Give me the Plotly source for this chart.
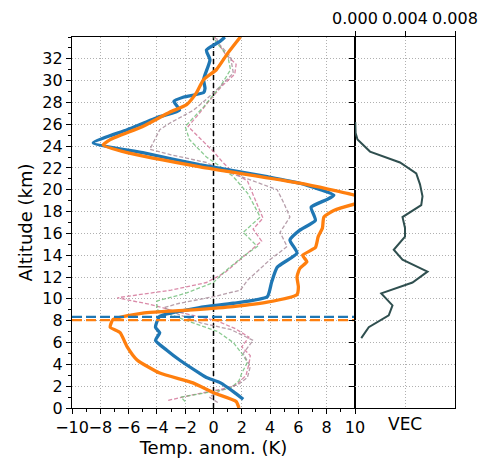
import plotly.graph_objects as go

# ---- Data ----
blue_T = [2.1, 1.4, 0.5, -0.5, -1.0, -2.4, -3.3, -4.1, -3.8, -4.1, -3.8, -1.0, 1.4, 3.8, 4.1, 4.5, 5.9, 5.4, 6.1, 7.2, 6.9, 8.0, 8.5, 6.1, 3.8, -1.0, -5.0, -8.5, -6.1, -3.8, -2.4, -2.8, -2.1, -0.7, -0.6, -0.7, -0.25, -0.5, 0.46, 0.8]
blue_z = [0.8, 1.5, 2.3, 2.8, 3.2, 4.4, 5.3, 6.2, 6.9, 7.4, 8.4, 9.2, 9.6, 10.2, 11.5, 12.9, 14.2, 15.4, 16.3, 17.2, 18.4, 19.1, 19.5, 20.6, 21.2, 22.3, 23.4, 24.3, 25.5, 26.7, 27.3, 28.1, 28.5, 28.9, 29.3, 30.1, 31.9, 32.8, 33.6, 34.0]

orange_T = [1.8, 1.6, 0.0, -1.45, -3.8, -5.4, -6.1, -6.6, -7.3, -7.1, -5.0, -1.45, 1.4, 3.8, 5.9, 6.0, 5.9, 6.1, 6.6, 6.3, 7.2, 7.4, 7.7, 7.8, 8.5, 10.0, 11.0, 10.0, 6.1, -0.95, -6.1, -7.8, -7.3, -5.0, -3.1, -1.9, -1.2, -0.7, 0.2, 1.0, 1.9]
orange_z = [0.0, 0.6, 1.4, 2.3, 3.2, 4.4, 5.6, 6.9, 7.4, 8.1, 8.7, 9.0, 9.3, 9.7, 10.4, 11.1, 12.0, 12.8, 13.4, 14.0, 14.7, 15.7, 16.5, 17.5, 18.1, 18.7, 19.0, 19.5, 20.6, 22.1, 23.4, 24.1, 24.6, 25.8, 27.1, 27.8, 28.9, 30.1, 31.0, 32.5, 34.0]

pink_T = [-3.2, -1.5, 0.5, 1.6, 2.3, 2.5, 2.6, 2.0, 2.5, 1.5, 0.2, -2.5, -4.5, -6.8, -3.0, -0.5, 0.8, 1.5, 2.6, 3.4, 2.8, 3.5, 3.2, 2.4, 1.2, 0.6, 0.0, -0.8, -1.8, -1.0, -0.4, 0.6, 1.5, 1.6, 0.8, 0.3, 0.1]
pink_z = [0.7, 1.2, 1.7, 2.1, 3.0, 4.0, 4.8, 5.6, 6.5, 7.3, 8.0, 8.8, 9.5, 10.1, 10.8, 11.5, 12.4, 13.2, 14.4, 15.3, 16.4, 17.4, 18.3, 20.8, 21.8, 22.6, 23.5, 24.5, 25.8, 27.0, 28.0, 29.5, 30.6, 31.5, 32.5, 33.5, 34.0]

green_T = [-2.0, -2.3, -0.5, 1.2, 1.8, 2.0, 2.4, 2.0, 1.4, 0.3, -1.0, -2.5, -4.0, -4.0, -2.0, 0.0, 0.7, 2.1, 3.1, 2.1, 3.3, 2.9, 2.4, 1.4, 0.3, -0.5, -1.7, -2.0, -0.7, 0.5, 1.2, 1.0, 0.2, 0.0]
green_z = [0.6, 1.0, 1.4, 1.8, 2.5, 3.2, 4.2, 5.0, 6.0, 7.0, 7.6, 8.3, 9.0, 9.8, 10.5, 11.5, 12.4, 13.9, 14.8, 16.1, 17.5, 18.5, 19.7, 21.2, 22.3, 23.0, 24.6, 25.8, 27.6, 29.5, 31.0, 32.3, 33.5, 34.0]

mauve_T = [0.3, -0.3, 0.5, 1.8, 2.4, 2.6, 2.1, 2.8, 1.2, -0.9, -2.5, -3.5, -2.4, 0.0, 1.9, 2.4, 4.0, 5.2, 4.7, 5.4, 5.0, 4.5, 2.4, 0.5, -0.5, -3.0, -4.5, -3.8, -3.1, -1.4, -0.5, 0.5, 1.4, 1.2, 0.3, 0.2]
mauve_z = [0.5, 1.0, 1.6, 2.2, 2.8, 3.8, 5.0, 6.2, 7.2, 7.8, 8.6, 9.2, 9.6, 10.2, 10.8, 11.7, 13.6, 14.8, 16.1, 17.5, 18.7, 20.0, 21.0, 21.8, 22.5, 23.2, 23.7, 25.5, 26.1, 27.3, 28.3, 29.5, 30.7, 32.2, 33.5, 34.0]

vec_v = [0.00002, 0.00005, 0.0002, 0.0012, 0.0036, 0.0049, 0.0052, 0.0054, 0.0053, 0.0038, 0.0040, 0.0040, 0.0031, 0.0038, 0.0058, 0.0046, 0.0021, 0.0030, 0.0027, 0.0011, 0.0005]
vec_z = [26.2, 25.2, 24.6, 23.5, 22.5, 21.5, 20.5, 19.4, 18.6, 17.5, 16.5, 15.7, 14.5, 13.6, 12.5, 11.5, 10.5, 9.4, 8.5, 7.4, 6.4]

tropo_blue = 8.35
tropo_orange = 8.05

x_ticks = [-10, -8, -6, -4, -2, 0, 2, 4, 6, 8, 10]
z_ticks = [0, 2, 4, 6, 8, 10, 12, 14, 16, 18, 20, 22, 24, 26, 28, 30, 32]
vec_ticks = [0.0, 0.004, 0.008]

x_range = [-10, 10]
z_range = [0, 34]
vec_range = [0, 0.008]

FONT = "DejaVu Sans"
fig = go.Figure()

# zero line
fig.add_trace(go.Scatter(x=[0, 0], y=z_range, mode="lines",
                         line=dict(color="black", width=1.5, dash="5px,3px"),
                         xaxis="x", yaxis="y", showlegend=False))
# thin dashed
for T, z, c in [(pink_T, pink_z, "rgba(205,100,140,0.75)"),
                (green_T, green_z, "rgba(100,185,110,0.75)"),
                (mauve_T, mauve_z, "rgba(165,135,150,0.8)")]:
    fig.add_trace(go.Scatter(x=T, y=z, mode="lines",
                             line=dict(color=c, width=1.3, dash="4px,2px"),
                             xaxis="x", yaxis="y", showlegend=False))
# thick
fig.add_trace(go.Scatter(x=blue_T, y=blue_z, mode="lines",
                         line=dict(color="#1f77b4", width=3.3, shape="spline", smoothing=0.5),
                         xaxis="x", yaxis="y", showlegend=False))
fig.add_trace(go.Scatter(x=orange_T, y=orange_z, mode="lines",
                         line=dict(color="#ff7f0e", width=3.3, shape="spline", smoothing=0.5),
                         xaxis="x", yaxis="y", showlegend=False))
# tropopause lines
fig.add_trace(go.Scatter(x=x_range, y=[tropo_blue, tropo_blue], mode="lines",
                         line=dict(color="#1f77b4", width=2.2, dash="10px,4px"),
                         xaxis="x", yaxis="y", showlegend=False))
fig.add_trace(go.Scatter(x=x_range, y=[tropo_orange, tropo_orange], mode="lines",
                         line=dict(color="#ff7f0e", width=2.2, dash="10px,4px"),
                         xaxis="x", yaxis="y", showlegend=False))
# VEC
fig.add_trace(go.Scatter(x=vec_v, y=vec_z, mode="lines",
                         line=dict(color="#2f4f4f", width=2),
                         xaxis="x2", yaxis="y2", showlegend=False))

split = 283 / 383
grid = dict(showgrid=True, gridcolor="#b0b0b0", griddash="1px,2px", gridwidth=1)
common = dict(showline=True, linecolor="black", linewidth=1.3, mirror=True,
              ticks="outside", ticklen=5, tickwidth=1.2, tickcolor="black", tickangle=0,
              tickfont=dict(family=FONT, size=16, color="black"), zeroline=False)

fig.update_layout(
    width=487, height=459,
    margin=dict(l=72, r=32, t=37, b=51),
    paper_bgcolor="white", plot_bgcolor="white",
    font=dict(family=FONT, size=16, color="black"),
    xaxis=dict(domain=[0, split], range=x_range, tickmode="array", tickvals=x_ticks, anchor="y",
               minor=dict(dtick=1, tick0=0, ticks="outside", ticklen=2.5, tickcolor="black", showgrid=False),
               title=dict(text="Temp. anom. (K)", standoff=2, font=dict(family=FONT, size=18)),
               automargin=False, **grid, **common),
    yaxis=dict(domain=[0, 1], range=z_range, tickmode="array", tickvals=z_ticks, anchor="x",
               minor=dict(dtick=1, tick0=0, ticks="outside", ticklen=2.5, tickcolor="black", showgrid=False),
               title=dict(text="Altitude (km)", standoff=4, font=dict(family=FONT, size=18)),
               automargin=False, **grid, **common),
    xaxis2=dict(domain=[split, 1], range=vec_range, tickmode="array", tickvals=vec_ticks, tickformat=".3f",
                side="top", anchor="y2", automargin=False, **grid, **common),
    yaxis2=dict(domain=[0, 1], range=z_range, tickmode="array", tickvals=z_ticks, anchor="x2",
                matches="y", showticklabels=False, automargin=False, **grid, **common),
    annotations=[dict(text="VEC", x=0.004, xref="x2", y=0, yref="paper",
                      yanchor="top", yshift=-4, showarrow=False,
                      font=dict(family=FONT, size=17, color="black"))],
)

fig.write_html("out.html")
